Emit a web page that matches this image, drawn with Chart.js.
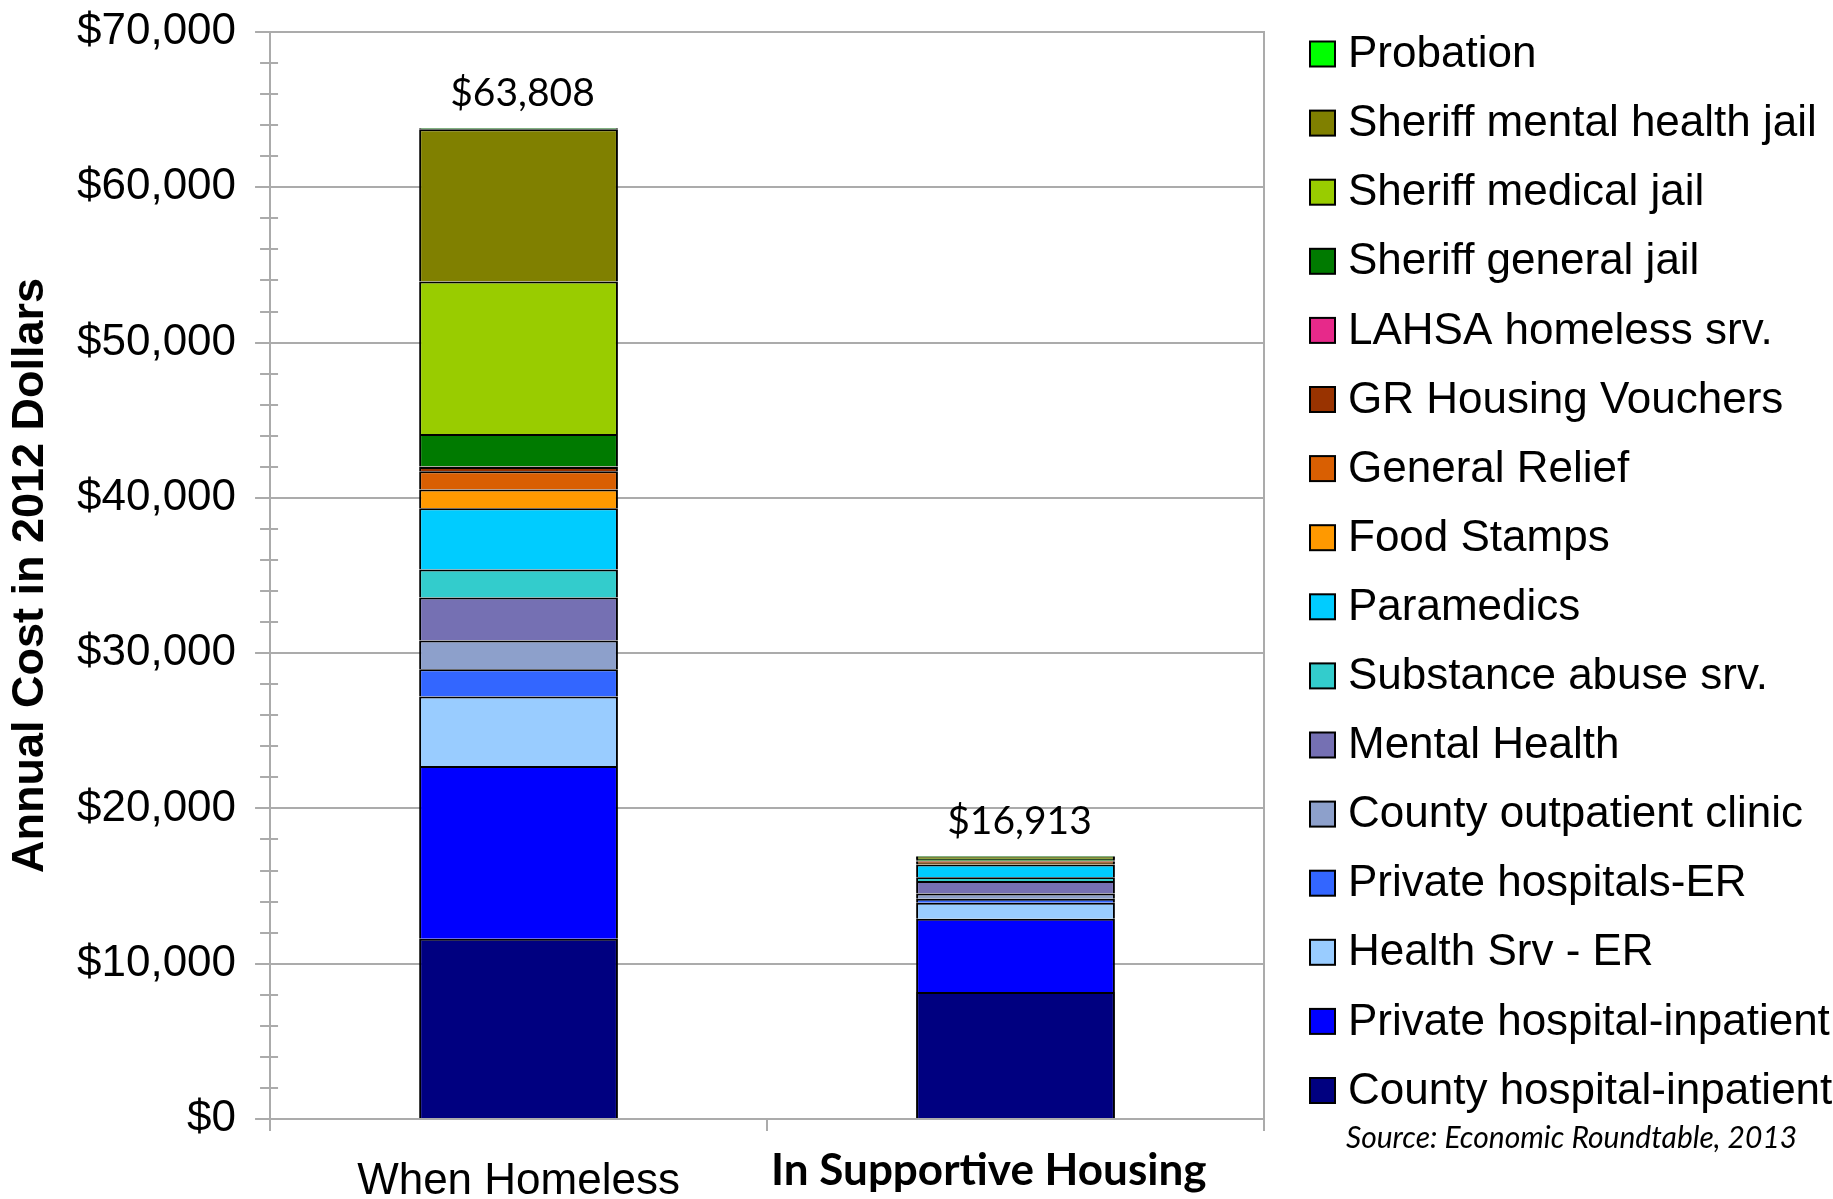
<!DOCTYPE html>
<html lang="en">
<head>
    <meta charset="UTF-8">
    <script src="https://cdn.jsdelivr.net/npm/chart.js"></script>
    <title>Annual cost</title>
    <style>
        body{ margin:0; background:#fff; }
        #chart_area{ width:1833px; height:1199px; }
    </style>
</head>
<body>
    <div id="chart_area">
        <canvas id="mychart"></canvas>
    </div>
    <script>
        // categories and series (bottom of the stack first)
        let categories = ["When Homeless", "In Supportive Housing"];
        let seriesNames = [
            "County hospital-inpatient", "Private hospital-inpatient", "Health Srv - ER",
            "Private hospitals-ER", "County outpatient clinic", "Mental Health",
            "Substance abuse srv.", "Paramedics", "Food Stamps", "General Relief",
            "GR Housing Vouchers", "LAHSA homeless srv.", "Sheriff general jail",
            "Sheriff medical jail", "Sheriff mental health jail", "Probation"
        ];
        let colors = [
            "#000080", "#0000ff", "#99ccff", "#3366ff", "#8da0cb", "#7570b3",
            "#33cccc", "#00ccff", "#ff9900", "#d95f02", "#993300", "#e7298a",
            "#007a00", "#99cc00", "#808000", "#00ff00"
        ];
        let homeless = [11615, 11115, 4477, 1754, 1847, 2769, 1814, 3945, 1200, 1179, 279, 20, 2091, 9829, 9796, 78];
        let housing  = [8180, 4720, 1020, 270, 330, 810, 240, 818, 90, 80, 40, 30, 120, 60, 60, 45];

        let yMax = 70000;
        let yMajor = 10000;
        let yMinor = 2000;
        let sourceText = "Source: Economic Roundtable, 2013";

        let gridColor = "#ababab";
        let money = v => "$" + v.toLocaleString("en-US");

        let datasets = seriesNames.map((name, i) => ({
            label: name,
            data: [homeless[i], housing[i]],
            backgroundColor: colors[i],
            borderColor: "#000",
            borderWidth: 2,
            barPercentage: 0.4,
            categoryPercentage: 1.0
        }));

        // minor tick marks cross the y axis
        const minorTicks = {
            id: "minorTicks",
            afterDraw(chart){
                const y = chart.scales.y;
                const c = chart.ctx;
                c.save();
                c.strokeStyle = gridColor;
                c.lineWidth = 2;
                for(let v = yMinor; v < yMax; v += yMinor){
                    if(v % yMajor == 0) continue;
                    const py = Math.round(y.getPixelForValue(v));
                    c.beginPath();
                    c.moveTo(y.right - 10, py);
                    c.lineTo(y.right + 8, py);
                    c.stroke();
                }
                c.restore();
            }
        };

        // totals above the bars
        const totals = {
            id: "totals",
            afterDatasetsDraw(chart){
                const c = chart.ctx;
                const top = chart.getDatasetMeta(datasets.length - 1);
                c.save();
                c.fillStyle = "#000";
                c.font = "39px Lato";
                c.textAlign = "center";
                c.textBaseline = "middle";
                categories.forEach((cat, i) => {
                    const sum = datasets.reduce((a, d) => a + d.data[i], 0);
                    const el = top.data[i];
                    c.fillText(money(sum), el.x + 4, el.y - 35);
                });
                c.restore();
            }
        };

        // legend at the right, top item = top of the stack
        const sideLegend = {
            id: "sideLegend",
            afterDraw(chart){
                const c = chart.ctx;
                const boxX = chart.chartArea.right + 46;
                const y0 = 54, step = 69.1, box = 25;
                c.save();
                c.font = "44px 'Liberation Sans', Arial";
                c.textBaseline = "middle";
                c.textAlign = "left";
                const items = chart.data.datasets.slice().reverse();
                items.forEach((d, i) => {
                    const cy = y0 + i * step;
                    c.fillStyle = d.backgroundColor;
                    c.fillRect(boxX, cy - box / 2, box, box);
                    c.strokeStyle = "#000";
                    c.lineWidth = 2;
                    c.strokeRect(boxX, cy - box / 2, box, box);
                    c.fillStyle = "#000";
                    c.fillText(d.label, boxX + 38, cy + 1);
                });
                c.font = "italic 30px Lato";
                c.fillText(sourceText, boxX + 36, y0 + items.length * step - 21);
                c.restore();
            }
        };

        let config = {
            type: "bar",
            data: { labels: categories, datasets: datasets },
            options: {
                responsive: true,
                maintainAspectRatio: false,
                animation: false,
                layout: { padding: { top: 32, bottom: -33, right: 569, left: 4 } },
                plugins: {
                    legend: { display: false },
                    tooltip: { enabled: false }
                },
                scales: {
                    x: {
                        stacked: true,
                        grid: { drawOnChartArea: false, color: gridColor, lineWidth: 2, tickLength: 12 },
                        border: { color: gridColor, width: 2 },
                        ticks: {
                            color: "#000",
                            padding: 23,
                            // second label sits a little left of its bar
                            callback: function(v, i){ return i == 1 ? this.getLabelForValue(v) + "     " : this.getLabelForValue(v); },
                            font: ctx => ctx.index == 1
                                ? { family: "Lato", size: 44, weight: "bold", lineHeight: 0.75 }
                                : { family: "'Liberation Sans', Arial", size: 44, lineHeight: 1.25 }
                        }
                    },
                    y: {
                        stacked: true,
                        min: 0,
                        max: yMax,
                        afterFit: s => { s.paddingTop = 0; },
                        title: {
                            display: true,
                            text: "Annual Cost in 2012 Dollars",
                            color: "#000",
                            font: { family: "'Liberation Sans', Arial", size: 45, weight: "bold" },
                            padding: { top: 0, bottom: 0 }
                        },
                        grid: {
                            color: ctx => ctx.tick && ctx.tick.value % yMajor == 0 ? gridColor : "rgba(0,0,0,0)",
                            lineWidth: 2,
                            tickLength: 15
                        },
                        border: { color: gridColor, width: 2 },
                        ticks: {
                            stepSize: yMinor,
                            autoSkip: false,
                            padding: 19,
                            color: "#000",
                            font: { family: "'Liberation Sans', Arial", size: 44 },
                            callback: v => v % yMajor == 0 ? money(v) : ""
                        }
                    },
                    y2: {
                        position: "right",
                        display: true,
                        afterFit: s => { s.paddingTop = 0; },
                        grid: { display: false, drawTicks: false },
                        ticks: { display: false },
                        border: { display: true, color: gridColor, width: 2 }
                    }
                }
            },
            plugins: [minorTicks, totals, sideLegend]
        };

        let chart = new Chart(document.querySelector("#mychart"), config);
    </script>
</body>
</html>
